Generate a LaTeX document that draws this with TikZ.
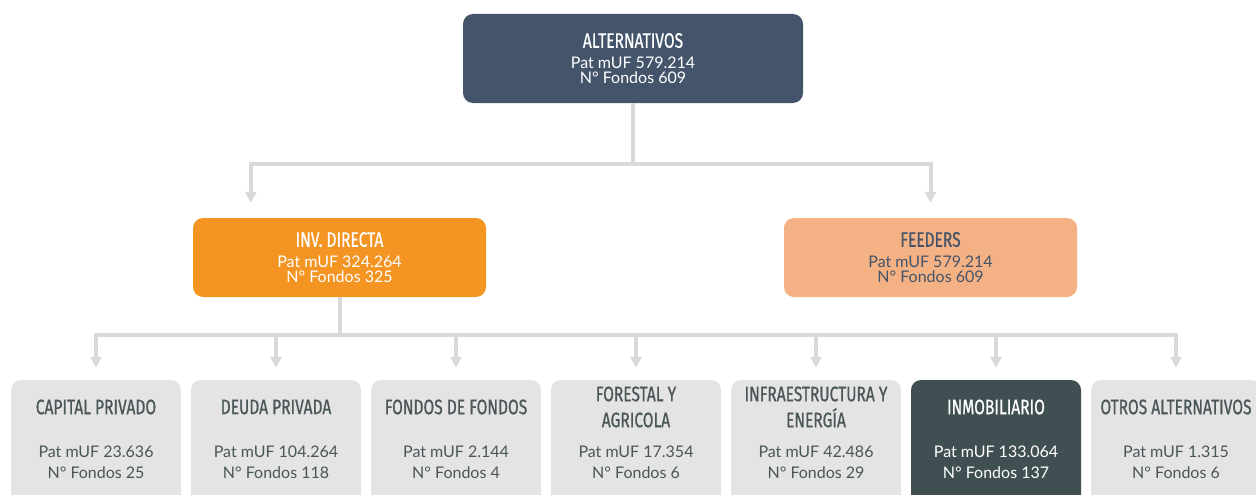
\documentclass[tikz,border=0pt]{standalone}
\usepackage{fontspec}
\setmainfont{Lato}
\newfontfamily\headfont[FakeStretch=0.74,FakeBold=0.7]{Fira Sans}
\usepackage{tikz}
\usetikzlibrary{arrows.meta,positioning,calc}
\definecolor{altblue}{HTML}{44546A}
\definecolor{invorange}{HTML}{F39423}
\definecolor{feedpeach}{HTML}{F4B183}
\definecolor{boxgray}{HTML}{E4E4E4}
\definecolor{inmobslate}{HTML}{404F51}
\definecolor{txtdark}{HTML}{4A5657}
\definecolor{linegray}{HTML}{D9D9D9}

\begin{document}
\begin{tikzpicture}[x=1pt,y=-1pt,
    box/.style={rectangle, rounded corners=10pt, inner sep=0pt},
    conn/.style={draw=linegray, line width=4pt},
    arr/.style={conn, -{Triangle[width=11pt,length=11pt]}},
    head/.style={font=\headfont\fontsize{21}{26}\selectfont, align=center},
    info/.style={font=\fontsize{16}{21}\selectfont, align=center},
    topbox/.style={box, text=white, align=center, font=\fontsize{16}{15}\selectfont}]
    \useasboundingbox (0,0) rectangle (1256,495);
    \clip (0,0) rectangle (1256,495);

    \node[topbox, fill=altblue, minimum width=340pt, minimum height=89pt] (alt) at (633,58.5)
        {{\headfont\fontsize{21}{21}\selectfont ALTERNATIVOS}\\[6pt]Pat mUF 579.214\\N° Fondos 609};
    \node[topbox, fill=invorange, minimum width=293pt, minimum height=79pt] (inv) at (339.5,257.5)
        {{\headfont\fontsize{21}{21}\selectfont INV. DIRECTA}\\[6pt]Pat mUF 324.264\\N° Fondos 325};
    \node[topbox, fill=feedpeach, text=altblue, minimum width=293pt, minimum height=79pt] (feed) at (930.5,257.5)
        {{\headfont\fontsize{21}{21}\selectfont FEEDERS}\\[6pt]Pat mUF 579.214\\N° Fondos 609};

    \coordinate (split) at (633,164);
    \coordinate (bus) at (342,335);
    \draw[arr, shorten >=15pt] (alt.south) -- (alt.south |- split) -| ([xshift=58pt]inv.north west);
    \draw[arr, shorten >=15pt] (alt.south) -- (alt.south |- split) -| (feed.north);

    \foreach \n/\t/\p/\f/\bg/\fg [count=\i from 0] in {
        cap/CAPITAL PRIVADO/23.636/25/boxgray/txtdark,
        deu/DEUDA PRIVADA/104.264/118/boxgray/txtdark,
        fdf/FONDOS DE FONDOS/2.144/4/boxgray/txtdark,
        for/{FORESTAL Y\\AGRICOLA}/17.354/6/boxgray/txtdark,
        inf/{INFRAESTRUCTURA Y\\ENERGÍA}/42.486/29/boxgray/txtdark,
        inm/INMOBILIARIO/133.064/137/inmobslate/white,
        otr/OTROS ALTERNATIVOS/1.315/6/boxgray/txtdark} {
        \node[box, fill=\bg, minimum width=170pt, minimum height=130pt] (\n) at (96+180*\i,445) {};
        \node[head, text=\fg] (\n-t) at (96+180*\i,407) {\t};
        \node[info, text=\fg] (\n-b) at (96+180*\i,462) {Pat mUF \p\\N° Fondos \f};
        \draw[arr, shorten >=12pt] (inv.south) -- (inv.south |- bus) -| (\n.north);
    }
\end{tikzpicture}
\end{document}
